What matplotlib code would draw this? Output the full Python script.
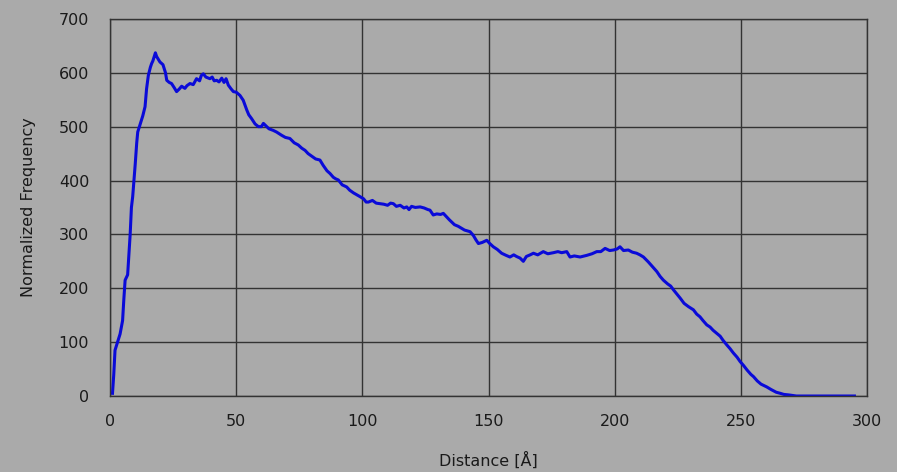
import numpy as np
import matplotlib
matplotlib.use("Agg")
import matplotlib.pyplot as plt

# Abstand in Angstrom und normierte Haeufigkeit
distanz = [1, 1.5, 2, 3, 4, 5, 5.5, 6, 7, 8, 8.5, 9, 10, 10.6, 11, 12, 13, 13.9, 14.5, 15.2,
           16, 16.5, 17, 18, 18.5, 19.8, 21, 22, 22.5, 23.5, 24.4, 25.5, 26.4, 27.5, 28.4, 29.7,
           30.5, 31.7, 33, 34.3, 35.5, 36.2, 37, 38, 39.6, 40.5, 41.3, 42.3, 43.2, 44.3, 45.2,
           46, 46.9, 48, 48.9, 50, 51.5, 52.8, 54.2, 55, 56.1, 57.5, 58.8, 60, 60.8, 62.1, 63,
           64.7, 66, 67, 68, 69.5, 71.3, 73, 74.6, 76, 77.3, 78.5, 80, 81.5, 83.2, 84.5, 86,
           87.2, 88.5, 89.5, 90.5, 92, 93.8, 95, 96.5, 98, 99.1, 100.5, 101.5, 102.4, 104,
           105.5, 107, 108.5, 110, 111.2, 112.3, 113.5, 115, 116.5, 117.6, 118.5, 119.5, 121,
           122.9, 124.5, 126, 126.8, 128.1, 129.5, 131, 132.1, 133.5, 134.5, 135.4, 136.5, 138,
           139.4, 140.5, 142.7, 144, 145, 146, 147.5, 149.3, 150.5, 151.9, 153.5, 155.2, 157,
           158.5, 160, 161.1, 162.5, 163.8, 165, 166.5, 167.8, 169.5, 171.7, 173.5, 175.7,
           177.5, 179, 181, 182.3, 184, 186.3, 188.9, 191, 192.9, 194.5, 196.2, 198, 199.5,
           201, 202.1, 203.5, 205.4, 207, 208.7, 210, 211.4, 213.3, 215, 216.7, 218, 219.3,
           221, 222.2, 223.3, 224.5, 225.9, 227.5, 229.2, 231.2, 232.5, 233.8, 235, 236.5,
           237.8, 239, 240.5, 241.8, 243, 244.4, 245.7, 247, 248.5, 249.7, 251, 252.5, 254,
           255, 256.5, 258, 260.2, 262, 264, 265.6, 267, 269, 272, 275, 280, 285, 290, 295]
haeufigkeit = [5, 40, 85, 100, 115, 140, 180, 215, 225, 300, 350, 370, 430, 470, 490, 505, 520,
               537, 570, 595, 610, 617, 622, 637, 630, 620, 615, 600, 586, 582, 580, 572, 565,
               570, 575, 571, 576, 580, 578, 589, 585, 595, 598, 592, 589, 592, 585, 586, 583,
               590, 582, 589, 577, 570, 565, 564, 558, 549, 531, 522, 515, 505, 500, 500, 506,
               500, 496, 493, 490, 487, 484, 480, 478, 470, 466, 460, 456, 450, 445, 440, 438,
               428, 418, 413, 406, 403, 401, 392, 388, 382, 377, 373, 370, 366, 360, 360, 363,
               358, 357, 356, 354, 358, 357, 352, 354, 349, 351, 346, 352, 350, 351, 349, 346,
               345, 336, 338, 337, 339, 332, 327, 323, 318, 315, 311, 308, 305, 298, 290, 283,
               285, 289, 283, 277, 272, 265, 261, 258, 262, 259, 256, 250, 259, 262, 265, 262,
               268, 264, 266, 268, 266, 268, 258, 260, 258, 261, 264, 268, 268, 274, 270, 271,
               273, 277, 270, 271, 267, 265, 262, 258, 249, 240, 231, 222, 215, 208, 204, 197,
               190, 182, 172, 166, 160, 152, 147, 140, 132, 128, 122, 116, 111, 103, 95, 88, 80,
               72, 64, 57, 48, 40, 36, 28, 22, 17, 12, 7, 5, 3, 2, 0, 0, 0, 0, 0, 0]

hintergrund = "#aaaaaa"
fig = plt.figure(figsize=(8.97, 4.72), dpi=100, facecolor=hintergrund)
ax = fig.add_axes([0.1226, 0.161, 0.844, 0.799])
ax.set_facecolor(hintergrund)

ax.plot(distanz, haeufigkeit, color="#0a0ad8", linewidth=2.2)

ax.set_xlim(0, 300)
ax.set_ylim(0, 700)
ax.set_xticks(np.arange(0, 301, 50))
ax.set_yticks(np.arange(0, 701, 100))
ax.grid(True, color="#333333", linewidth=1.0)
ax.set_axisbelow(True)
for s in ax.spines.values():
    s.set_color("#333333")
    s.set_linewidth(1.0)
ax.tick_params(length=0, labelsize=11.5, labelcolor="#1a1a1a")
ax.tick_params(axis="x", pad=13)
ax.tick_params(axis="y", pad=15)

ax.set_xlabel("Distance [Å]", fontsize=11.5, color="#1a1a1a", labelpad=16)
ax.set_ylabel("Normalized Frequency", fontsize=11.5, color="#1a1a1a", labelpad=16)

fig.savefig("out.png", dpi=100, facecolor=hintergrund)
